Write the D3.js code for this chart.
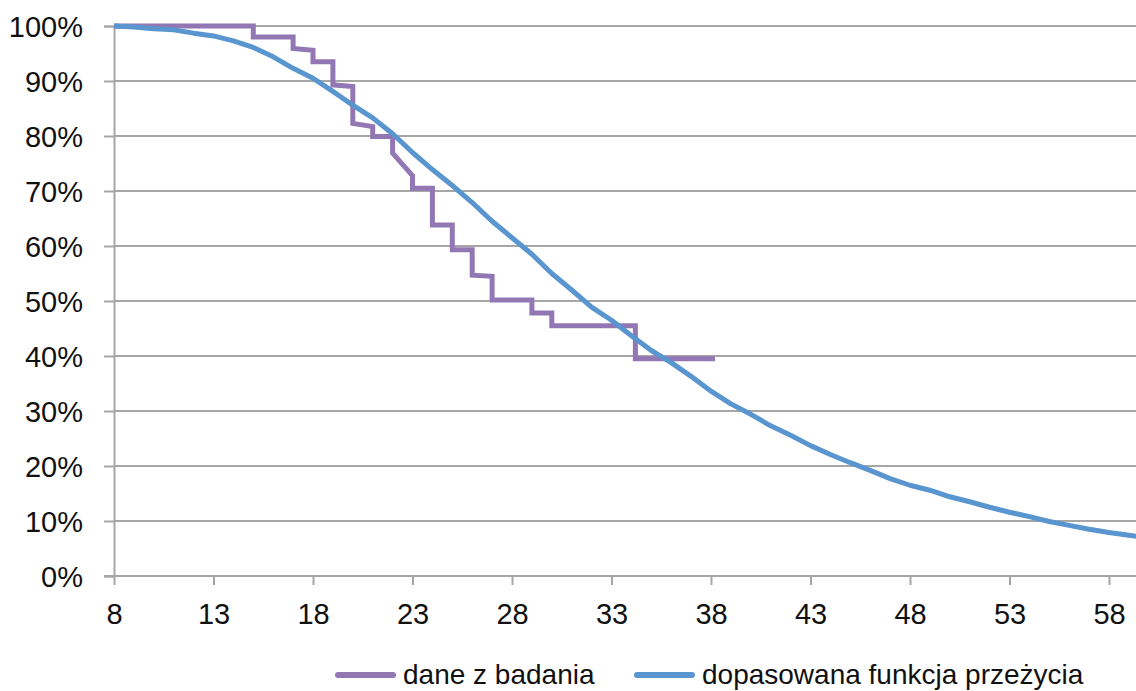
<!DOCTYPE html>
<html>
<head>
<meta charset="utf-8">
<script src="https://cdn.jsdelivr.net/npm/d3@7"></script>
<style>
    body { margin: 0; background: #fff; }
    text { font-family: "Liberation Sans", Arial, sans-serif; fill: #111; }
</style>
</head>
<body>
<svg id="chart"></svg>
<script>
// survey data (Kaplan-Meier style steps)
const surveyTime = [8, 15, 15, 17, 17, 18, 18, 19, 19, 20, 20, 21, 21, 22, 22, 23, 23, 24, 24, 25, 25, 26, 26, 27, 27, 29, 29, 30, 30, 34.2, 34.2, 38.2];
const surveyValue = [100, 100, 98.0, 98.0, 95.9, 95.6, 93.5, 93.5, 89.3, 89.0, 82.3, 81.7, 79.9, 79.9, 76.9, 72.8, 70.5, 70.5, 63.8, 63.8, 59.3, 59.3, 54.7, 54.5, 50.2, 50.2, 47.8, 47.8, 45.5, 45.5, 39.5, 39.5];

// fitted survival function, read at each whole unit
const fitTime = d3.range(8, 61);
const fitValue = [100, 99.8, 99.5, 99.3, 98.7, 98.2, 97.3, 96.1, 94.4, 92.3,
    90.5, 88.1, 85.6, 83.3, 80.4, 77.0, 73.9, 71.0, 67.9, 64.5,
    61.5, 58.5, 55.0, 52.0, 48.9, 46.5, 43.7, 41.0, 38.8, 36.3,
    33.6, 31.3, 29.4, 27.3, 25.6, 23.7, 22.1, 20.6, 19.2, 17.7,
    16.5, 15.6, 14.4, 13.5, 12.5, 11.6, 10.8, 9.9, 9.2, 8.5,
    7.9, 7.4, 6.9];

const xTicks = [8, 13, 18, 23, 28, 33, 38, 43, 48, 53, 58];
const yTicks = [0, 10, 20, 30, 40, 50, 60, 70, 80, 90, 100];
const seriesNames = ["dane z badania", "dopasowana funkcja przeżycia"];
const seriesColors = ["#9277b4", "#5995cf"];

const width = 1136;
const height = 691;
const svg = d3.select("#chart").attr("width", width).attr("height", height);

const x = d3.scaleLinear().domain([8, 58]).range([114, 1109]);
const y = d3.scaleLinear().domain([0, 100]).range([576, 26]);

const grid = "#a6a6a6";

// horizontal gridlines
svg.append("g")
    .selectAll("line")
    .data(yTicks.filter(d => d > 0))
    .join("line")
        .attr("x1", x(8))
        .attr("x2", width)
        .attr("y1", d => y(d))
        .attr("y2", d => y(d))
        .attr("stroke", grid)
        .attr("stroke-width", 2);

// y axis
const yAxis = svg.append("g")
    .attr("transform", `translate(${x(8)},0)`)
    .call(d3.axisLeft(y).tickValues(yTicks).tickSize(10).tickPadding(21).tickFormat(d => d + "%"));
yAxis.select(".domain").attr("stroke", grid).attr("stroke-width", 2);
yAxis.selectAll(".tick line").attr("stroke", grid).attr("stroke-width", 2);
yAxis.selectAll("text").style("font-size", "29px").attr("dy", "0.36em");

// x axis
const xAxis = svg.append("g")
    .attr("transform", `translate(0,${y(0)})`)
    .call(d3.axisBottom(x).tickValues(xTicks).tickSize(9).tickPadding(18).tickFormat(d3.format("d")));
xAxis.select(".domain").attr("d", `M${x(8) - 10},0H${width}`).attr("stroke", grid).attr("stroke-width", 2);
xAxis.selectAll(".tick line").attr("stroke", grid).attr("stroke-width", 2);
xAxis.selectAll("text").style("font-size", "29px");

const line = d3.line()
    .x(d => x(d[0]))
    .y(d => y(d[1]));

svg.append("path")
    .datum(d3.zip(surveyTime, surveyValue))
    .attr("d", line)
    .attr("fill", "none")
    .attr("stroke", seriesColors[0])
    .attr("stroke-width", 5)
    .attr("stroke-linejoin", "miter");

svg.append("path")
    .datum(d3.zip(fitTime, fitValue))
    .attr("d", line)
    .attr("fill", "none")
    .attr("stroke", seriesColors[1])
    .attr("stroke-width", 5)
    .attr("stroke-linejoin", "round");

// legend
const legendX = [338, 637];
const legend = svg.append("g")
    .selectAll("g")
    .data(seriesNames)
    .join("g")
        .attr("transform", (d, i) => `translate(${legendX[i]},675)`);
legend.append("line")
    .attr("x1", 0)
    .attr("x2", 55)
    .attr("stroke", (d, i) => seriesColors[i])
    .attr("stroke-width", 6)
    .attr("stroke-linecap", "round");
legend.append("text")
    .attr("x", 65)
    .attr("y", 9)
    .style("font-size", "28px")
    .text(d => d);
</script>
</body>
</html>
